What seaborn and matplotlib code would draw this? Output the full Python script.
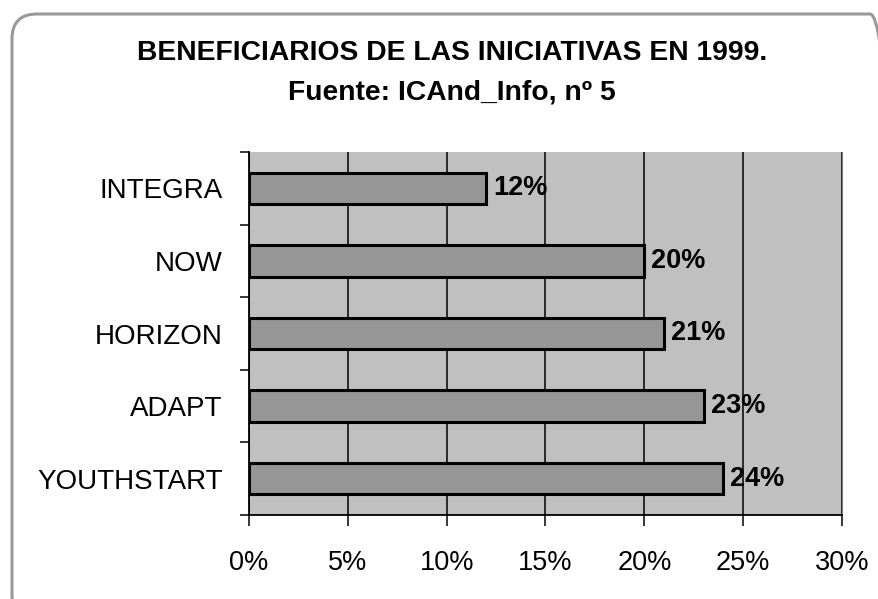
import matplotlib
matplotlib.use("Agg")
import matplotlib.pyplot as plt
import matplotlib.patches as mpatches
from matplotlib.transforms import IdentityTransform
from matplotlib.ticker import FixedLocator
import pandas as pd
import seaborn as sns

# datos
iniciativas = ["INTEGRA", "NOW", "HORIZON", "ADAPT", "YOUTHSTART"]
porcentajes = [12, 20, 21, 23, 24]
ticks_x = [0, 5, 10, 15, 20, 25, 30]
titulo = "BENEFICIARIOS DE LAS INICIATIVAS EN 1999."
subtitulo = "Fuente: ICAnd_Info, nº 5"

sns.set_style("white")
plt.rcParams["font.family"] = ["Liberation Sans", "DejaVu Sans"]
plt.rcParams["text.color"] = "black"
plt.rcParams["xtick.color"] = "black"
plt.rcParams["ytick.color"] = "black"
plt.rcParams["axes.labelcolor"] = "black"

df = pd.DataFrame({"iniciativa": iniciativas, "pct": porcentajes})

fig = plt.figure(figsize=(8.79, 5.99), dpi=100)
ax = fig.add_axes([249 / 879, 1 - 515 / 599, (842 - 249) / 879, (515 - 152) / 599])

sns.barplot(data=df, x="pct", y="iniciativa", orient="h", color="#969696",
            saturation=1, edgecolor="black", linewidth=2.2, width=0.43, ax=ax)

ax.set_facecolor("#C0C0C0")
ax.set_xlim(0, 30)
ax.set_ylim(4.5, -0.5)
ax.set_xticks(ticks_x)
ax.set_xticklabels([f"{t}%" for t in ticks_x], fontsize=19.5)
ax.set_yticks(range(len(iniciativas)))
ax.set_yticklabels(iniciativas, fontsize=20)
ax.set_xlabel("")
ax.set_ylabel("")

# marcas entre categorias
ax.yaxis.set_minor_locator(FixedLocator([i - 0.5 for i in range(len(iniciativas) + 1)]))
ax.tick_params(axis="y", which="major", length=0, pad=19)
ax.tick_params(axis="y", which="minor", length=6.5, width=1.1, color="black", left=True)
ax.tick_params(axis="x", which="major", length=8, width=1.1, color="black", pad=17, bottom=True)

ax.xaxis.grid(True, color="black", linewidth=1.1)
ax.set_axisbelow(True)

for lado in ["left", "bottom"]:
    ax.spines[lado].set_color("black")
    ax.spines[lado].set_linewidth(1.3)
ax.spines["top"].set_visible(False)
ax.spines["right"].set_color("#808080")
ax.spines["right"].set_linewidth(0.8)

ax.bar_label(ax.containers[0], labels=[f"{v}%" for v in porcentajes],
             padding=5, fontsize=19.5, fontweight="bold", color="black")

fig.text(452 / 879, 1 - 53 / 599, titulo, ha="center", va="center",
         fontsize=20.3, fontweight="bold", color="black")
fig.text(452 / 879, 1 - 93 / 599, subtitulo, ha="center", va="center",
         fontsize=20.3, fontweight="bold", color="black")

# marco redondeado
marco = mpatches.FancyBboxPatch((12, -21), 883, 606,
                                boxstyle="round,pad=0,rounding_size=25",
                                facecolor="none", edgecolor="#999999",
                                linewidth=2.2, transform=IdentityTransform())
fig.add_artist(marco)

fig.savefig("out.png", dpi=100)
